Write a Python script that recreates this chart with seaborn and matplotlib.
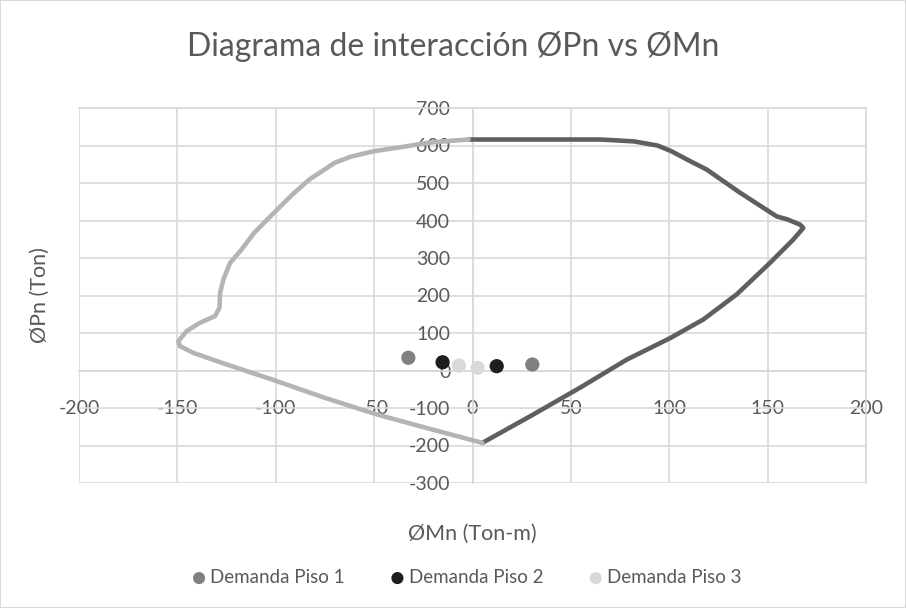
import numpy as np
import pandas as pd
import matplotlib
matplotlib.use("Agg")
import matplotlib.pyplot as plt
import seaborn as sns

# curva de interacción, lado de momento positivo (gris oscuro)
pos_mn = [-2, 30, 50, 65, 82, 94, 101, 110, 119, 136, 154.6, 160, 166.5, 168.1,
          163, 151.2, 134.3, 117.3, 100.7, 78.4, 54.6, 30, 5]
pos_pn = [616, 616, 616, 616, 611, 600, 585, 560, 536, 474, 411, 403, 389, 380,
          349, 287, 203, 136, 87, 29, -46, -120, -193]

# lado de momento negativo (gris claro)
neg_mn = [-2, -12, -23, -37, -50, -62, -70, -83, -92, -101, -111, -117.3,
          -123.2, -126.6, -128.3, -128.6, -130.9, -138.6, -145.3, -149.5,
          -148.7, -141.9, -124.9, -103, -75, -48.7, -25, 5]
neg_pn = [616, 612, 607, 595, 585, 570, 554, 509, 467, 420, 367, 323,
          287, 243, 207, 167, 145, 127, 105, 78,
          65, 47, 16, -22, -73, -117, -151, -193]

# demandas por piso (Mu, Pu)
piso1_mn = [-32.6, 30.4]
piso1_pn = [34, 16]
piso2_mn = [-15.2, 12.3]
piso2_pn = [22, 11.5]
piso3_mn = [-6.9, 2.6]
piso3_pn = [13, 7]

x_ticks = [-200, -150, -100, -50, 0, 50, 100, 150, 200]
y_ticks = [-300, -200, -100, 0, 100, 200, 300, 400, 500, 600, 700]

txt = "#595959"
grid = "#d9d9d9"

sns.set_style("white")
plt.rcParams["font.family"] = ["Lato", "DejaVu Sans"]
plt.rcParams["axes.unicode_minus"] = False

fig = plt.figure(figsize=(9.06, 6.08), dpi=100, edgecolor=grid, linewidth=1.2)
ax = fig.add_axes([79 / 906, 1 - 483 / 608, 787 / 906, 375 / 608])

df_pos = pd.DataFrame({"Mn": pos_mn, "Pn": pos_pn})
df_neg = pd.DataFrame({"Mn": neg_mn, "Pn": neg_pn})
sns.lineplot(data=df_pos, x="Mn", y="Pn", sort=False, estimator=None,
             color="#5f5f5f", lw=3.3, ax=ax, zorder=3,
             solid_joinstyle="round", solid_capstyle="round")
sns.lineplot(data=df_neg, x="Mn", y="Pn", sort=False, estimator=None,
             color="#b4b4b4", lw=3.3, ax=ax, zorder=3,
             solid_joinstyle="round", solid_capstyle="round")

for mn, pn, c, lab in [(piso1_mn, piso1_pn, "#808080", "Demanda Piso 1"),
                       (piso2_mn, piso2_pn, "#1e1e1e", "Demanda Piso 2"),
                       (piso3_mn, piso3_pn, "#d9d9d9", "Demanda Piso 3")]:
    sns.scatterplot(x=mn, y=pn, color=c, s=105, edgecolor="none", label=lab,
                    ax=ax, zorder=4)

ax.set_xlim(-200, 200)
ax.set_ylim(-300, 700)
ax.set_xticks(x_ticks)
ax.set_yticks(y_ticks)
ax.grid(True, color=grid, lw=1.2)
ax.set_axisbelow(True)

ax.spines["left"].set_position(("data", 0))
ax.spines["bottom"].set_position(("data", 0))
for s in ["left", "bottom", "top", "right"]:
    ax.spines[s].set_color(grid)
    ax.spines[s].set_linewidth(1.2)

ax.tick_params(axis="both", length=0, labelsize=14, labelcolor=txt)
ax.tick_params(axis="y", pad=16)
ax.tick_params(axis="x", pad=21)

ax.set_xlabel("ØMn (Ton-m)", fontsize=15.5, color=txt)
ax.set_ylabel("ØPn (Ton)", fontsize=15.5, color=txt)
ax.xaxis.set_label_coords(0.5, -0.11)
ax.yaxis.set_label_coords(-0.037, 0.5)

fig.suptitle("Diagrama de interacción ØPn vs ØMn", fontsize=23, color=txt,
             y=1 - 46 / 608, va="center")

ax.legend(loc="center", bbox_to_anchor=(0.49, -0.252), ncol=3, frameon=False,
          fontsize=13.5, labelcolor=txt, handletextpad=0.0, columnspacing=2.2,
          handlelength=1.2, markerscale=0.85)

fig.savefig("out.png", dpi=100)
